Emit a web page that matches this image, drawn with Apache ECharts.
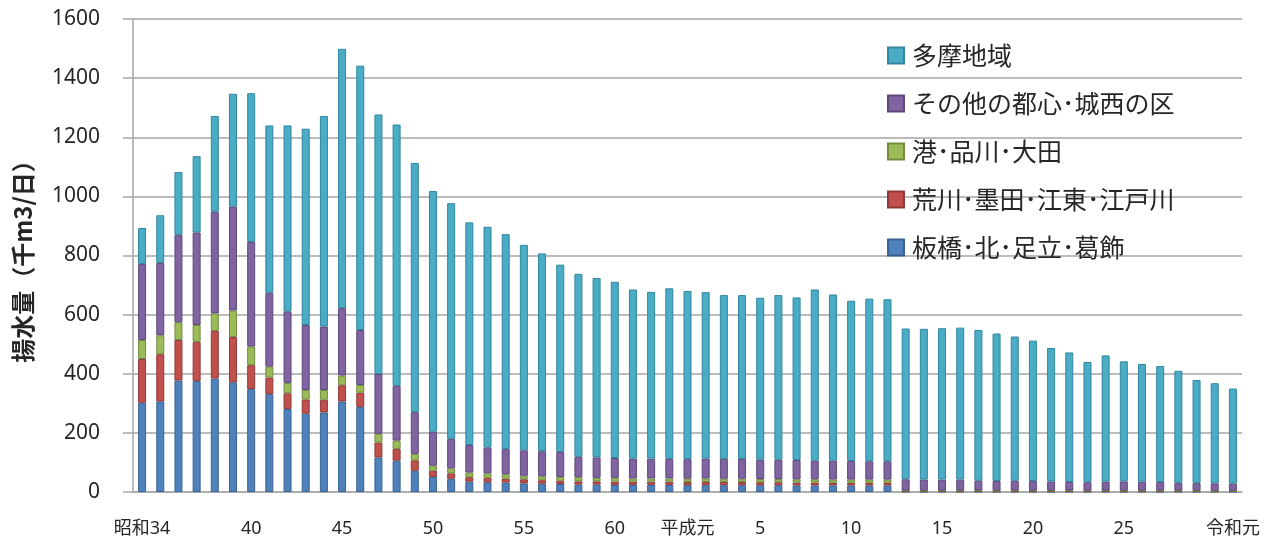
<!DOCTYPE html>
<html>
<head>
<meta charset="utf-8">
<script src="https://cdn.jsdelivr.net/npm/echarts@6/dist/echarts.min.js"></script>
<style>
html,body{margin:0;padding:0;background:#fff;}
#chart{width:1276px;height:544px;}
</style>
</head>
<body>
<div id="chart"></div>
<script>
// Categories: fiscal years 昭和34 (1959) .. 令和元 (2019)
var categories = [];
for (var y = 34; y <= 63; y++) categories.push('昭和' + y);
categories.push('平成元');
for (var h = 2; h <= 30; h++) categories.push('平成' + h);
categories.push('令和元');

// Tick labels shown under the axis
var tickCategories = ['昭和34','昭和40','昭和45','昭和50','昭和55','昭和60','平成元','平成5','平成10','平成15','平成20','平成25','令和元'];
var tickLabels     = ['昭和34','40','45','50','55','60','平成元','5','10','15','20','25','令和元'];

var seriesNames = ['板橋･北･足立･葛飾','荒川･墨田･江東･江戸川','港･品川･大田','その他の都心･城西の区','多摩地域'];

var itabashi = [302,306,377,375,384,371,348,331,281,265,269,306,288,117,106,72,51,45,35,33,32,29,28,27,25,25,24,
                24,24,24,23,23,23,23,23,23,22,22,22,22,22,22,
                1,1,1,1,1,1,1,1,1,1,1,1,1,1,1,1,1,1,1];
var arakawa  = [148,160,137,133,161,153,81,56,53,48,43,55,48,50,40,35,21,18,15,15,13,14,12,11,11,11,11,
                11,11,11,11,11,11,11,10,10,10,10,9,9,9,9,
                2,2,2,2,2,2,2,2,2,2,2,2,2,2,2,2,2,1,1];
var minato   = [64,64,60,57,59,90,63,37,35,32,33,33,26,30,28,22,17,17,16,15,15,12,13,13,14,12,13,
                11,11,11,11,12,11,11,11,11,11,11,11,11,11,11,
                2,2,2,2,2,2,2,2,2,2,2,2,2,2,2,2,2,2,2];
var toshin   = [257,245,296,313,344,351,354,250,242,220,215,228,186,202,185,141,115,100,93,88,85,86,85,84,69,69,67,
                67,67,66,66,67,67,67,65,65,65,63,64,63,62,62,
                38,37,37,37,33,32,33,32,30,29,28,30,31,30,29,26,25,25,25];
var tama     = [122,161,212,258,324,382,503,566,629,664,712,877,894,878,884,843,814,797,753,746,727,695,669,634,619,607,596,
                572,564,577,569,563,554,554,548,557,550,579,562,542,550,548,
                510,510,512,514,510,499,488,475,452,438,407,427,406,398,392,379,349,339,321];

var fills   = ['#4F81BD','#C0504D','#9BBB59','#8064A2','#4BACC6'];
var borders = ['#3A6393','#8E3A38','#718A40','#5D4979','#31869D'];
var values  = [itabashi, arakawa, minato, toshin, tama];

var series = seriesNames.map(function(name, i){
  return {
    name: name,
    type: 'bar',
    stack: 'total',
    barWidth: 8,
    data: values[i],
    itemStyle: { color: fills[i], borderColor: borders[i], borderWidth: 1 },
    emphasis: { disabled: true }
  };
});

var chart = echarts.init(document.getElementById('chart'), null, {renderer: 'canvas'});
chart.setOption({
  animation: false,
  backgroundColor: '#ffffff',
  grid: { left: 133, right: 34, top: 19, bottom: 52, containLabel: false },
  legend: {
    orient: 'vertical',
    left: 887,
    top: 43,
    padding: 0,
    itemGap: 23,
    itemWidth: 16,
    itemHeight: 16,
    icon: 'rect',
    data: seriesNames.slice().reverse(),
    textStyle: { fontFamily: "'Noto Sans CJK JP', sans-serif", fontSize: 25, color: '#262626', padding: [0,0,0,3] }
  },
  xAxis: {
    type: 'category',
    data: categories,
    axisLine: { show: true, lineStyle: { color: '#a6a6a6', width: 1.5 } },
    axisTick: { show: false },
    axisLabel: {
      interval: function(idx, val){ return tickCategories.indexOf(val) >= 0; },
      formatter: function(val){ var k = tickCategories.indexOf(val); return k >= 0 ? tickLabels[k] : ''; },
      margin: 28,
      fontFamily: "'Noto Sans', 'Noto Sans CJK JP', sans-serif",
      fontSize: 18,
      color: '#262626'
    }
  },
  yAxis: {
    type: 'value',
    min: 0, max: 1600, interval: 200,
    name: '揚水量（千m3/日）',
    nameLocation: 'middle',
    nameGap: 98,
    nameTextStyle: { fontFamily: "'Noto Sans CJK JP', sans-serif", fontSize: 24, fontWeight: 'bold', color: '#262626' },
    axisLine: { show: true, lineStyle: { color: '#a6a6a6', width: 1.5 } },
    axisTick: { show: true, length: 10, lineStyle: { color: '#a6a6a6', width: 1.5 } },
    splitLine: { show: true, lineStyle: { color: '#a6a6a6', width: 1.5 } },
    axisLabel: {
      margin: 33,
      formatter: function(v){ return String(v); },
      fontFamily: "'Noto Sans', sans-serif",
      fontSize: 21,
      color: '#262626'
    }
  },
  series: series
});
</script>
</body>
</html>
